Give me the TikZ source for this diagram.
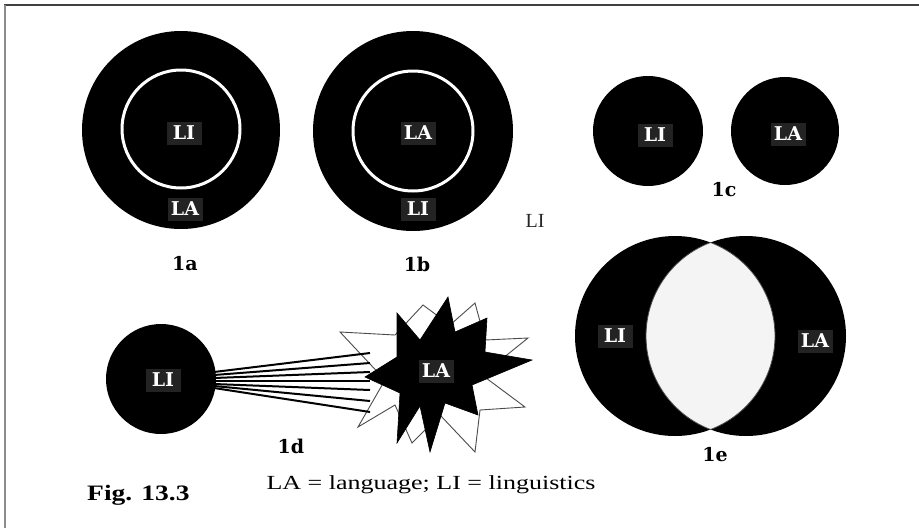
\documentclass[tikz,border=0pt]{standalone}
\usepackage{fontspec}
\newfontfamily\capfont{Liberation Serif}
\newfontfamily\labfont{DejaVu Serif}
\definecolor{labbg}{HTML}{232323}
\definecolor{lensfill}{HTML}{F4F4F4}
\begin{document}
\begin{tikzpicture}[x=1pt,y=-1pt,
  lab/.style={fill=labbg,text=white,font=\labfont\fontsize{19}{19}\selectfont\bfseries,minimum width=35pt,minimum height=23pt,inner sep=0pt},
  figlab/.style={font=\labfont\fontsize{19}{19}\selectfont\bfseries},
  disc/.style={fill=black},
  ring/.style={draw=white,line width=3pt},
  fan/.style={line width=2pt,black},
  outstar/.style={fill=white,draw=black!70,line width=0.9pt,line join=miter},
  blkstar/.style={fill=black,draw=black,line width=0.6pt}]
\useasboundingbox (0,0) rectangle (919,528);
\fill[white] (0,0) rectangle (919,528);
% frame
\draw[black!75,line width=1.5pt] (4,5) -- (919,5);
\draw[black!45,line width=2pt] (5,5) -- (5,528);

% 1a
\fill[disc] (181,130) circle[radius=99pt];
\draw[ring] (181,129) circle[radius=59pt];
\node[lab] (a1) at (184,133) {LI};
\node[lab] (a2) at (185,209) {LA};
\node[figlab] (la) at (185,264) {1a};

% 1b
\fill[disc] (413,131) circle[radius=100pt];
\draw[ring] (413,131) circle[radius=60pt];
\node[lab] (b1) at (418,133) {LA};
\node[lab] (b2) at (418,209) {LI};
\node[figlab] (lb) at (417,264) {1b};

% stray LI
\node[font=\capfont\fontsize{20}{20}\selectfont,text=black!85] (stray) at (535,221) {LI};

% 1c
\fill[disc] (648,131) circle[radius=55pt];
\fill[disc] (785,131) circle[radius=54pt];
\node[lab] (c1) at (655,135) {LI};
\node[lab] (c2) at (788,134) {LA};
\node[figlab] (lc) at (724,190) {1c};

% 1e
\fill[disc] (675,336) circle[radius=100pt];
\fill[disc] (746,336) circle[radius=100pt];
\begin{scope}
  \clip (675,336) circle[radius=100pt];
  \fill[lensfill] (746,336) circle[radius=100pt];
  \draw[black!70,line width=0.8pt] (746,336) circle[radius=100pt];
\end{scope}
\begin{scope}
  \clip (746,336) circle[radius=100pt];
  \draw[black!70,line width=0.8pt] (675,336) circle[radius=100pt];
\end{scope}
\node[lab] (e1) at (615,336) {LI};
\node[lab] (e2) at (815,341) {LA};
\node[figlab] (le) at (715,455) {1e};

% 1d
\fill[disc] (161,379) circle[radius=55pt];
\node[lab] (d1) at (163,380) {LI};
% outlined star
\draw[outstar] (340,332) -- (395,335) -- (423,305) -- (450,325) -- (475,303) -- (485,340)
  -- (528,338) -- (482,375) -- (525,407) -- (480,410) -- (475,452) -- (440,415)
  -- (412,443) -- (395,405) -- (358,427) -- (385,380) -- cycle;
% fan lines
\foreach \i/\ys/\ye in {1/372/353, 2/375/363, 3/378/372, 4/381/381, 5/384/390, 6/386/401, 7/388/412}{
  \coordinate (fs\i) at (214,\ys);
  \coordinate (fe\i) at (370,\ye);
  \draw[fan] (fs\i) -- (fe\i);
}
% black star
\draw[blkstar] (397,313) -- (420,340) -- (448,297) -- (455,332) -- (487,318) -- (485,352)
  -- (532,360) -- (472,385) -- (478,415) -- (445,403) -- (430,452) -- (420,406)
  -- (397,443) -- (400,393) -- (365,377) -- (397,357) -- cycle;
\node[lab] (d2) at (436,371) {LA};
\node[figlab] (ld) at (291,446) {1d};

% captions
\node[anchor=base,font=\capfont\fontsize{20}{20}\selectfont] (cap) at (431,489) {\scalebox{1.3}[1]{LA = language; LI = linguistics}};
\node[anchor=base west,inner sep=0pt,font=\capfont\fontsize{22}{22}\selectfont\bfseries] (fig) at (87,500) {\scalebox{1.25}[1]{Fig. 13.3}};
\end{tikzpicture}
\end{document}
